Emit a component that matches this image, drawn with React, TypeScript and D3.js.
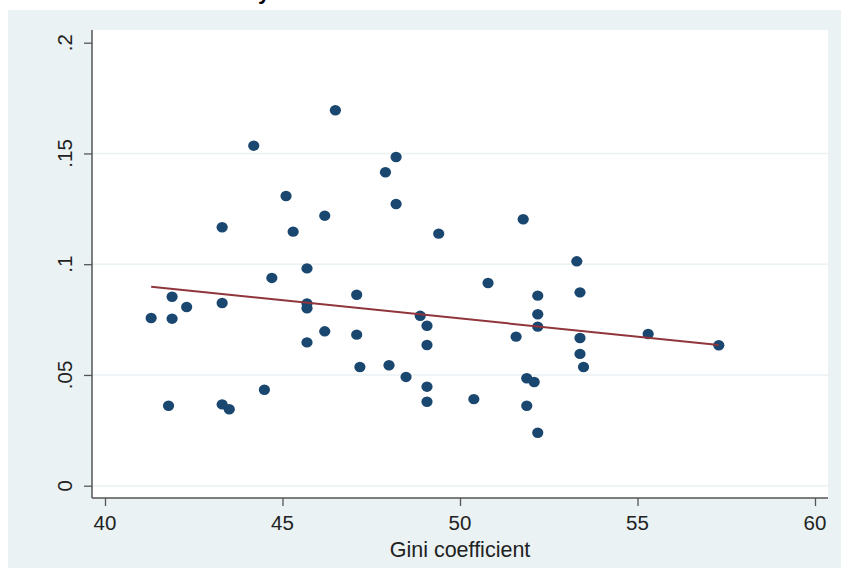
import { useEffect, useRef } from "react";
import * as d3 from "d3";

// Gini coefficient (x) vs outcome share (y), one entry per unit
const gini = [
  46.49, 44.19, 48.2, 47.9, 45.1, 48.2, 46.19, 43.3, 45.3, 51.78, 49.4, 53.29,
  45.69, 44.7, 41.89, 47.09, 43.3, 45.69, 45.69, 42.3, 41.3, 41.89, 48.88, 49.07,
  46.19, 47.09, 45.69, 49.07, 47.18, 48.0, 48.48, 49.07, 44.49, 41.79, 43.3, 43.5,
  49.07, 50.79, 52.19, 53.38, 52.19, 52.19, 51.58, 53.38, 55.3, 57.29, 53.38, 53.48,
  51.88, 52.09, 50.39, 51.88, 52.19,
];
const share = [
  0.1695, 0.1535, 0.1484, 0.1415, 0.1308, 0.1272, 0.1219, 0.1167, 0.1147, 0.1203, 0.1138, 0.1013,
  0.0981, 0.0938, 0.0853, 0.0862, 0.0825, 0.0823, 0.0801, 0.0807, 0.0757, 0.0754, 0.0767, 0.0722,
  0.0697, 0.0682, 0.0647, 0.0635, 0.0536, 0.0544, 0.0491, 0.0447, 0.0433, 0.0361, 0.0367, 0.0345,
  0.0379, 0.0915, 0.0858, 0.0873, 0.0774, 0.0718, 0.0673, 0.0667, 0.0685, 0.0634, 0.0595, 0.0536,
  0.0485, 0.0468, 0.0391, 0.0361, 0.0239,
];
// fitted line: intercept, slope
const fitCoef = [0.158, -0.00165];
const xTicks = [40, 45, 50, 55, 60];
const yTicks = [0, 0.05, 0.1, 0.15, 0.2];
const yGrid = [0, 0.05, 0.1, 0.15];
const xTitle = "Gini coefficient";

const W = 841;
const H = 568;
const FONT = "'Liberation Sans', Arial, sans-serif";

export default function App() {
  const ref = useRef<SVGSVGElement>(null);

  useEffect(() => {
    const svg = d3.select(ref.current);
    svg.selectAll("*").remove();

    svg.append("rect").attr("width", W).attr("height", H).attr("fill", "#ffffff");
    // outer graph region
    svg.append("rect").attr("x", 8).attr("y", 10).attr("width", W - 8).attr("height", H - 10).attr("fill", "#eaf2f3");

    const plot = { left: 92, right: 828, top: 30, bottom: 498 };
    svg.append("rect")
      .attr("x", plot.left).attr("y", plot.top)
      .attr("width", plot.right - plot.left).attr("height", plot.bottom - plot.top)
      .attr("fill", "#ffffff");

    // title sits above the top edge, only a descender shows
    svg.append("text")
      .attr("x", 264).attr("y", -1.5)
      .attr("text-anchor", "middle")
      .attr("font-family", FONT).attr("font-weight", "bold").attr("font-size", 22)
      .attr("fill", "#000")
      .text("y");

    const x = d3.scaleLinear().domain([40, 60]).range([105, 815]);
    const y = d3.scaleLinear().domain([0, 0.2]).range([485.7, 42.7]);

    // grid
    yGrid.forEach((t) => {
      svg.append("line")
        .attr("x1", plot.left).attr("x2", plot.right)
        .attr("y1", y(t)).attr("y2", y(t))
        .attr("stroke", "#eaf2f3").attr("stroke-width", 1.6);
    });

    const fmt = (v: number) => (v === 0 ? "0" : d3.format("~g")(v).replace(/^0/, ""));

    // y axis
    const ya = svg.append("g").attr("transform", `translate(${plot.left},0)`)
      .call(d3.axisLeft(y).tickValues(yTicks).tickSize(8).tickFormat(() => ""));
    ya.select(".domain").remove();
    ya.selectAll(".tick line").attr("stroke", "#555").attr("stroke-width", 1.3);
    yTicks.forEach((t) => {
      svg.append("text")
        .attr("transform", `translate(72,${y(t)}) rotate(-90)`)
        .attr("text-anchor", "middle")
        .attr("font-family", FONT).attr("font-size", 20.5).attr("fill", "#222")
        .text(fmt(t));
    });

    // x axis
    const xa = svg.append("g").attr("transform", `translate(0,${plot.bottom})`)
      .call(d3.axisBottom(x).tickValues(xTicks).tickSize(8).tickFormat(() => ""));
    xa.select(".domain").remove();
    xa.selectAll(".tick line").attr("stroke", "#555").attr("stroke-width", 1.3);
    xTicks.forEach((t) => {
      svg.append("text")
        .attr("x", x(t)).attr("y", 529.5)
        .attr("text-anchor", "middle")
        .attr("font-family", FONT).attr("font-size", 20.5).attr("fill", "#222")
        .text(String(t));
    });

    svg.append("line")
      .attr("x1", plot.left).attr("x2", plot.left)
      .attr("y1", plot.top).attr("y2", plot.bottom)
      .attr("stroke", "#555").attr("stroke-width", 1.5);
    svg.append("line")
      .attr("x1", plot.left).attr("x2", plot.right)
      .attr("y1", plot.bottom).attr("y2", plot.bottom)
      .attr("stroke", "#555").attr("stroke-width", 1.5);

    svg.append("text")
      .attr("x", (plot.left + plot.right) / 2).attr("y", 557)
      .attr("text-anchor", "middle")
      .attr("font-family", FONT).attr("font-size", 21.5).attr("fill", "#222")
      .text(xTitle);

    // points
    gini.forEach((g, i) => {
      svg.append("ellipse")
        .attr("cx", x(g)).attr("cy", y(share[i]))
        .attr("rx", 5.6).attr("ry", 5.2)
        .attr("fill", "#1a476f");
    });

    // linear fit over the observed x range
    const [a, b] = fitCoef;
    const [x0, x1] = d3.extent(gini) as [number, number];
    svg.append("path")
      .datum([x0, x1])
      .attr("d", d3.line<number>().x((d) => x(d)).y((d) => y(a + b * d)))
      .attr("fill", "none")
      .attr("stroke", "#90353b")
      .attr("stroke-width", 2);
  }, []);

  return (
    <svg ref={ref} width={W} height={H} style={{ position: "absolute", left: 0, top: 0 }} />
  );
}
